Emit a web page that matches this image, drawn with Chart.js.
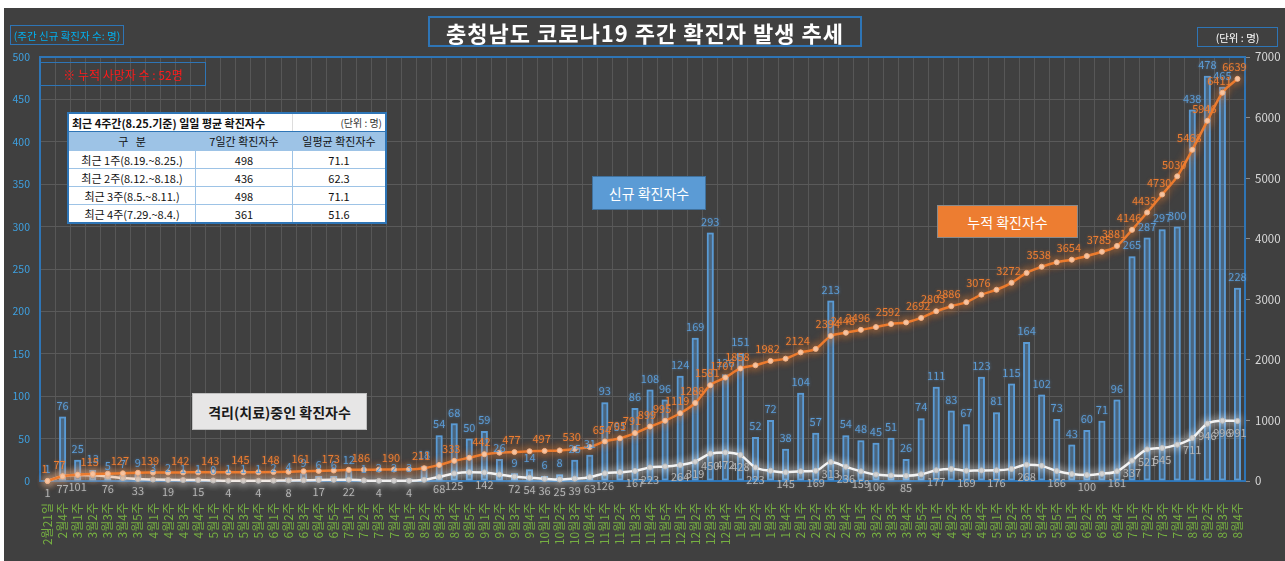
<!DOCTYPE html>
<html><head><meta charset="utf-8">
<script src="https://cdn.jsdelivr.net/npm/chart.js@4.4.1/dist/chart.umd.min.js"></script>
<style>
html,body{margin:0;padding:0;background:#fff;width:1285px;height:561px;overflow:hidden;font-family:'Noto Sans CJK KR','Noto Sans',sans-serif;}
#wrap{position:absolute;left:4px;top:8px;width:1281px;height:553px;background:#404040;}
#c{position:absolute;left:0;top:0;}
.box{position:absolute;box-sizing:border-box;display:flex;align-items:center;justify-content:center;white-space:nowrap;}
table.t{position:absolute;left:67px;top:112px;width:320px;border-collapse:collapse;background:#fff;font-size:11px;color:#111;border:2px solid #2e75b6;}
table.t td{border:1px solid #9dc3e6;padding:0;height:17px;line-height:16px;}
</style></head>
<body>
<div id="wrap"><canvas id="c" width="1281" height="553"></canvas></div>

<div class="box" style="left:428px;top:16px;width:434px;height:31px;border:2px solid #2e75b6;color:#fff;font-weight:bold;font-size:22px;letter-spacing:1px;">충청남도 코로나19 주간 확진자 발생 추세</div>
<div class="box" style="left:10px;top:25px;width:114px;height:20px;border:1.5px solid #2e75b6;color:#00b0f0;font-size:10.5px;">(주간 신규 확진자 수: 명)</div>
<div class="box" style="left:1197px;top:27px;width:81px;height:20px;border:1.5px solid #2e75b6;color:#fff;font-size:10.5px;">(단위 : 명)</div>
<div class="box" style="left:40px;top:62px;width:166px;height:24px;border:1px solid #2e75b6;color:#ff1a1a;font-size:12px;">※ 누적 사망자 수 : 52명</div>

<table class="t">
<tr><td colspan="2" style="border-right:none;font-weight:bold;padding-left:3px;border-bottom:1px solid #2e75b6;">최근 4주간(8.25.기준) 일일 평균 확진자수</td><td style="border-left:1px solid #ddd;text-align:right;padding-right:3px;font-size:10px;color:#333;border-bottom:1px solid #2e75b6;">(단위 : 명)</td></tr>
<tr style="background:#9dc3e6;"><td style="width:126px;text-align:center;height:18px;">구&nbsp;&nbsp;&nbsp;분</td><td style="width:96px;text-align:center;">7일간 확진자수</td><td style="text-align:center;">일평균 확진자수</td></tr>
<tr><td style="text-align:center;">최근 1주(8.19.~8.25.)</td><td style="text-align:center;">498</td><td style="text-align:center;">71.1</td></tr>
<tr><td style="text-align:center;">최근 2주(8.12.~8.18.)</td><td style="text-align:center;">436</td><td style="text-align:center;">62.3</td></tr>
<tr><td style="text-align:center;">최근 3주(8.5.~8.11.)</td><td style="text-align:center;">498</td><td style="text-align:center;">71.1</td></tr>
<tr><td style="text-align:center;">최근 4주(7.29.~8.4.)</td><td style="text-align:center;">361</td><td style="text-align:center;">51.6</td></tr>
</table>

<div class="box" style="left:592px;top:176px;width:114px;height:34px;background:#5b9bd5;border:1px solid #41719c;color:#fff;font-size:14px;">신규 확진자수</div>
<div class="box" style="left:937px;top:205px;width:141px;height:33px;background:#ed7d31;border:1px solid #8a8a8a;color:#fff;font-size:14px;">누적 확진자수</div>
<div class="box" style="left:192px;top:393px;width:175px;height:37px;background:#e7e6e6;border:1px solid #bfbfbf;color:#1a1a1a;font-size:14px;font-weight:600;">격리(치료)중인 확진자수</div>

<script>
const categories = [
 '2월21일','2월4주',
 '3월1주','3월2주','3월3주','3월4주','3월5주',
 '4월1주','4월2주','4월3주','4월4주',
 '5월1주','5월2주','5월3주','5월4주',
 '6월1주','6월2주','6월3주','6월4주','6월5주',
 '7월1주','7월2주','7월3주','7월4주',
 '8월1주','8월2주','8월3주','8월4주','8월5주',
 '9월1주','9월2주','9월3주','9월4주',
 '10월1주','10월2주','10월3주','10월4주',
 '11월1주','11월2주','11월3주','11월4주','11월5주',
 '12월1주','12월2주','12월3주','12월4주',
 '1월1주','1월2주','1월3주','1월4주',
 '2월1주','2월2주','2월3주','2월4주',
 '3월1주','3월2주','3월3주','3월4주','3월5주',
 '4월1주','4월2주','4월3주','4월4주',
 '5월1주','5월2주','5월3주','5월4주','5월5주',
 '6월1주','6월2주','6월3주','6월4주',
 '7월1주','7월2주','7월3주','7월4주',
 '8월1주','8월2주','8월3주','8월4주'
];
const weeklyNew = [
 1,76,25,13,5,7,9,3,2,1,1,0,1,1,1,2,4,9,6,6,
 12,1,2,2,3,18,54,68,50,59,26,9,14,6,8,25,31,93,51,86,
 108,96,124,169,293,126,151,52,72,38,104,57,213,54,48,45,51,26,74,111,
 83,67,123,81,115,164,102,73,43,60,71,96,265,287,297,300,438,478,465,228
];
const cumulative = [
 1,77,102,115,120,127,136,139,141,142,143,143,144,145,146,148,152,161,167,173,
 185,186,188,190,193,211,265,333,383,442,468,477,491,497,505,530,561,654,705,791,
 899,995,1119,1288,1581,1707,1858,1910,1982,2020,2124,2181,2394,2448,2496,2541,2592,2618,2692,2803,
 2886,2953,3076,3157,3272,3436,3538,3611,3654,3714,3785,3881,4146,4433,4730,5030,5468,5946,6411,6639
];
const isolating = [
 1,77,101,93,76,50,33,25,19,17,15,8,4,4,4,6,8,12,17,20,
 22,10,4,4,4,20,68,125,145,142,105,72,54,36,25,39,63,126,145,167,
 223,240,264,319,450,472,428,223,170,145,160,169,313,236,159,106,90,85,110,177,
 200,169,175,176,200,268,250,166,115,100,120,161,337,521,545,600,711,946,996,991
];
const leftTicks = {min:0, max:500, step:50};
const rightTicks = {min:0, max:7000, step:1000};
// which points carry a value label (1-based positions as in the reference)
const cumLabelAt = [1,2,4,6,8,10,12,14,16,18,20,22,24,26,28,30,32,34,36,38,39,40,41,42,43,44,45,46,47,49,51,53,54,55,57,59,60,61,63,65,67,69,71,72,73,74,75,76,77,78,79,80];
const isoLabelAt = [1,2,3,5,7,9,11,13,15,17,19,21,23,25,27,28,30,32,33,34,35,36,37,38,40,41,43,44,45,46,47,48,50,52,53,54,55,56,58,60,62,64,66,68,70,72,73,74,75,77,78,79,80];

const FONT = "'Noto Sans CJK KR','Noto Sans',sans-serif";
const labelCfg = [
  {show:null, color:'#5b9bd5', glow:'rgba(91,155,213,0.6)', dx:0, dy:-11, size:11},
  {show:new Set(cumLabelAt.map(v=>v-1)), color:'#ed7d31', glow:'rgba(237,125,49,0.5)', dx:-3, dy:-12, size:11},
  {show:new Set(isoLabelAt.map(v=>v-1)), color:'#b4b4b4', glow:'rgba(200,200,200,0.3)', dx:0, dy:12, size:11}
];
const glowCfg = [
  {color:'rgba(91,155,213,0.9)', blur:7},
  {color:'rgba(237,125,49,0.9)', blur:8},
  {color:'rgba(255,255,255,0.85)', blur:8}
];

const glowPlugin = {
  id:'glow',
  beforeDatasetDraw(chart,args){
    const g = glowCfg[args.index]; if(!g) return;
    chart.ctx.save(); chart.ctx.shadowColor=g.color; chart.ctx.shadowBlur=g.blur;
  },
  afterDatasetDraw(chart,args){ if(glowCfg[args.index]) chart.ctx.restore(); }
};
const framePlugin = {
  id:'frame',
  beforeDatasetsDraw(chart){
    const {ctx, chartArea:a} = chart;
    ctx.save(); ctx.strokeStyle='#2e75b6'; ctx.lineWidth=2;
    ctx.beginPath(); ctx.moveTo(a.left-1,a.top); ctx.lineTo(a.right+1,a.top); ctx.stroke();
    ctx.restore();
  }
};
const labelPlugin = {
  id:'vlabels',
  afterDatasetsDraw(chart){
    const ctx = chart.ctx;
    [0,2,1].forEach(di=>{
      const cfg = labelCfg[di];
      const meta = chart.getDatasetMeta(di);
      const data = chart.data.datasets[di].data;
      meta.data.forEach((el,i)=>{
        if(cfg.show && !cfg.show.has(i)) return;
        ctx.save();
        ctx.font = cfg.size+'px '+FONT;
        ctx.fillStyle = cfg.color; ctx.textAlign='center'; ctx.textBaseline='middle';
        ctx.shadowColor = cfg.glow; ctx.shadowBlur = 3;
        ctx.fillText(String(data[i]), el.x+cfg.dx, el.y+cfg.dy);
        ctx.restore();
      });
    });
  }
};

new Chart(document.getElementById('c'), {
  type:'bar',
  data:{
    labels:categories,
    datasets:[
      {type:'bar', label:'신규 확진자수', data:weeklyNew, yAxisID:'y', order:3,
       backgroundColor:'rgba(91,155,213,0.12)', borderColor:'#5b9bd5', borderWidth:2, borderSkipped:false,
       barPercentage:0.47, categoryPercentage:1.0},
      {type:'line', label:'누적 확진자수', data:cumulative, yAxisID:'y2', order:1,
       borderColor:'#ed7d31', borderWidth:2.5, pointRadius:2.5, pointBackgroundColor:'#f8cbad',
       pointBorderColor:'#f4b183', pointBorderWidth:1, cubicInterpolationMode:'monotone', clip:false},
      {type:'line', label:'격리(치료)중인 확진자수', data:isolating, yAxisID:'y2', order:2,
       borderColor:'#f2f2f2', borderWidth:2.5, pointRadius:2.5, pointBackgroundColor:'#cfcfcf',
       pointBorderColor:'#bfbfbf', pointBorderWidth:1, cubicInterpolationMode:'monotone', clip:false}
    ]
  },
  options:{
    responsive:false, animation:false, devicePixelRatio:1,
    layout:{padding:{top:49,left:0,right:0,bottom:0}},
    plugins:{legend:{display:false}, tooltip:{enabled:false}},
    scales:{
      x:{offset:true,
         grid:{color:'#575757', lineWidth:1, drawTicks:false, offset:true},
         border:{display:true, color:'#2e75b6', width:2},
         ticks:{autoSkip:false, maxRotation:90, minRotation:90, color:'#76b041', padding:22,
                font:{size:12, family:FONT}},
         afterFit(s){ s.height = 80; }},
      y:{position:'left', min:leftTicks.min, max:leftTicks.max,
         ticks:{stepSize:leftTicks.step, color:'#3ea0e0', padding:10, font:{size:10.5, family:FONT},
                callback:(v)=>String(v)},
         grid:{color:'#5a5a5a', drawTicks:false},
         border:{display:true, color:'#2e75b6', width:2},
         afterFit(s){ s.width = 36; }},
      y2:{position:'right', min:rightTicks.min, max:rightTicks.max,
         ticks:{stepSize:rightTicks.step, color:'#d9d9d9', padding:5, font:{size:11.5, family:FONT},
                callback:(v)=>String(v)},
         grid:{drawOnChartArea:false, drawTicks:true, tickLength:5, tickColor:'#8a8a8a'},
         border:{display:true, color:'#2e75b6', width:2},
         afterFit(s){ s.width = 40; }}
    }
  },
  plugins:[glowPlugin, framePlugin, labelPlugin]
});
</script>
</body></html>
